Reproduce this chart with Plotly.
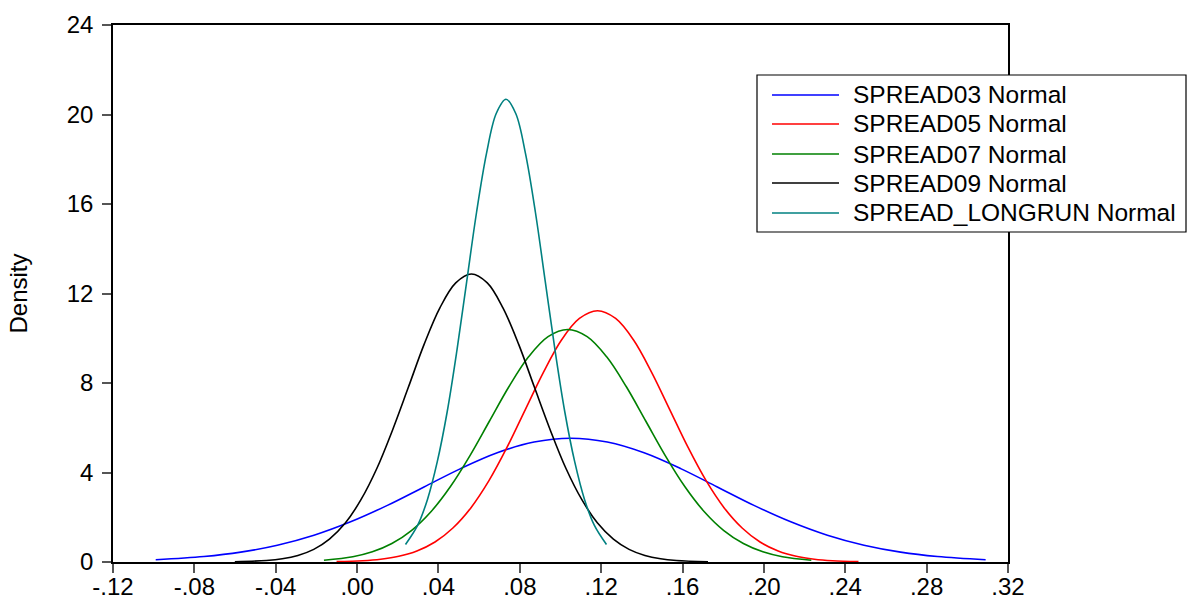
import plotly.graph_objects as go

# Values (x, density)
spread03_x = [-0.099, -0.0753, -0.0572, -0.0392, -0.0212, -0.0032, 0.0149, 0.0329, 0.0509, 0.0689, 0.0870, 0.105,
              0.1230, 0.1411, 0.1591, 0.1771, 0.1951, 0.2132, 0.2312, 0.2492, 0.2672, 0.2853, 0.309]
spread03_y = [0.101, 0.243, 0.440, 0.748, 1.196, 1.796, 2.532, 3.354, 4.174, 4.880, 5.360, 5.53,
              5.360, 4.880, 4.174, 3.354, 2.532, 1.796, 1.196, 0.748, 0.440, 0.243, 0.101]

spread05_x = [-0.0101, 0.0027, 0.0116, 0.0205, 0.0294, 0.0383, 0.0471, 0.0560, 0.0649, 0.0738, 0.0827, 0.0916,
              0.1004, 0.1093, 0.1182, 0.1271, 0.1360, 0.1448, 0.1537, 0.1626, 0.1715, 0.1804, 0.1893, 0.1981,
              0.2070, 0.2159, 0.2248, 0.2337, 0.2465]
spread05_y = [0.017, 0.057, 0.125, 0.256, 0.493, 0.893, 1.520, 2.429, 3.646, 5.141, 6.811, 8.476,
              9.911, 10.884, 11.23, 10.884, 9.911, 8.476, 6.811, 5.141, 3.646, 2.429, 1.520, 0.893,
              0.493, 0.256, 0.125, 0.057, 0.017]

spread07_x = [-0.0163, -0.0021, 0.0075, 0.0171, 0.0267, 0.0363, 0.0459, 0.0555, 0.0651, 0.0747, 0.0843, 0.0939,
              0.1035, 0.1131, 0.1227, 0.1323, 0.1419, 0.1515, 0.1611, 0.1707, 0.1803, 0.1899, 0.1995, 0.2091, 0.2233]
spread07_y = [0.080, 0.237, 0.457, 0.827, 1.406, 2.247, 3.374, 4.757, 6.302, 7.842, 9.169, 10.070,
              10.39, 10.070, 9.169, 7.842, 6.302, 4.757, 3.374, 2.247, 1.406, 0.827, 0.457, 0.237, 0.080]

spread09_x = [-0.0601, -0.0446, -0.0368, -0.0291, -0.0213, -0.0136, -0.0058, 0.0019, 0.0097, 0.0174, 0.0252,
              0.0329, 0.0407, 0.0485, 0.0562, 0.0640, 0.0717, 0.0795, 0.0872, 0.0950, 0.1027, 0.1105, 0.1182,
              0.1260, 0.1337, 0.1415, 0.1492, 0.1570, 0.1725]
spread09_y = [0.011, 0.066, 0.143, 0.293, 0.566, 1.024, 1.741, 2.784, 4.179, 5.892, 7.806,
              9.714, 11.358, 12.473, 12.87, 12.473, 11.358, 9.714, 7.806, 5.892, 4.179, 2.784, 1.741,
              1.024, 0.566, 0.293, 0.143, 0.066, 0.011]

longrun_x = [0.0238, 0.0298, 0.0346, 0.0394, 0.0443, 0.0491, 0.0539, 0.0587, 0.0636, 0.0684, 0.0732,
             0.0780, 0.0828, 0.0877, 0.0925, 0.0973, 0.1021, 0.1070, 0.1118, 0.1166, 0.1226]
longrun_y = [0.781, 1.645, 2.798, 4.473, 6.715, 9.467, 12.543, 15.609, 18.250, 20.043, 20.68,
             20.043, 18.250, 15.609, 12.543, 9.467, 6.715, 4.473, 2.798, 1.645, 0.781]

series_names = ["SPREAD03 Normal", "SPREAD05 Normal", "SPREAD07 Normal", "SPREAD09 Normal",
                "SPREAD_LONGRUN Normal"]
series_colors = ["#0000FF", "#FF0000", "#008000", "#000000", "#008080"]

x_tickvals = [-0.12, -0.08, -0.04, 0.00, 0.04, 0.08, 0.12, 0.16, 0.20, 0.24, 0.28, 0.32]
x_ticktext = ["-.12", "-.08", "-.04", ".00", ".04", ".08", ".12", ".16", ".20", ".24", ".28", ".32"]
y_tickvals = [0, 4, 8, 12, 16, 20, 24]

data = [(spread03_x, spread03_y), (spread05_x, spread05_y), (spread07_x, spread07_y),
        (spread09_x, spread09_y), (longrun_x, longrun_y)]

W, H = 1187, 601
ML, MR, MT, MB = 113, 179, 25, 39
PW, PH = W - ML - MR, H - MT - MB


def px_to_paper_x(px):
    return (px - ML) / PW


def px_to_paper_y(py):
    return (H - MB - py) / PH


fig = go.Figure()
for (xs, ys), name, col in zip(data, series_names, series_colors):
    fig.add_trace(go.Scatter(x=xs, y=ys, mode="lines", name=name, showlegend=False,
                             line=dict(color=col, width=1.6, shape="spline", smoothing=1.0)))

FONT = "Liberation Sans, Arial, sans-serif"

# Legend box (EViews-style), drawn as layout shapes / annotations
shapes = [dict(type="rect", xref="paper", yref="paper",
               x0=px_to_paper_x(757), x1=px_to_paper_x(1186),
               y0=px_to_paper_y(232), y1=px_to_paper_y(75),
               fillcolor="white", line=dict(color="black", width=1.2), layer="above")]
annotations = []
row_y = [95, 124, 154, 183, 213]
for name, col, ry in zip(series_names, series_colors, row_y):
    shapes.append(dict(type="line", xref="paper", yref="paper",
                       x0=px_to_paper_x(772), x1=px_to_paper_x(839),
                       y0=px_to_paper_y(ry), y1=px_to_paper_y(ry),
                       line=dict(color=col, width=1.6), layer="above"))
    annotations.append(dict(xref="paper", yref="paper", x=px_to_paper_x(851), y=px_to_paper_y(ry),
                            xanchor="left", yanchor="middle", showarrow=False, text=name,
                            font=dict(family=FONT, size=24.5, color="black")))

fig.update_layout(
    width=W, height=H,
    margin=dict(l=ML, r=MR, t=MT, b=MB, autoexpand=False),
    paper_bgcolor="white", plot_bgcolor="white",
    font=dict(family=FONT, size=24, color="black"),
    showlegend=False,
    shapes=shapes,
    annotations=annotations,
    xaxis=dict(range=[-0.12, 0.32], tickvals=x_tickvals, ticktext=x_ticktext, automargin=False,
               showgrid=False, zeroline=False, showline=True, linecolor="black", linewidth=1.6,
               mirror=True, ticks="outside", ticklen=9, tickcolor="#555555", tickwidth=1.5,
               ticklabelstandoff=-7,
               tickfont=dict(family=FONT, size=24, color="black")),
    yaxis=dict(range=[0, 24], tickvals=y_tickvals, automargin=False,
               showgrid=False, zeroline=False, showline=True, linecolor="black", linewidth=1.6,
               mirror=True, ticks="outside", ticklen=9, tickcolor="#555555", tickwidth=1.5,
               ticklabelstandoff=4,
               tickfont=dict(family=FONT, size=24, color="black"),
               title=dict(text="Density", font=dict(family=FONT, size=24, color="black"), standoff=32)),
)

fig.write_html("out.html", config={"displayModeBar": False},
               post_script="document.body.style.margin='0';document.body.style.padding='0';"
                           "document.documentElement.style.overflow='hidden';")
